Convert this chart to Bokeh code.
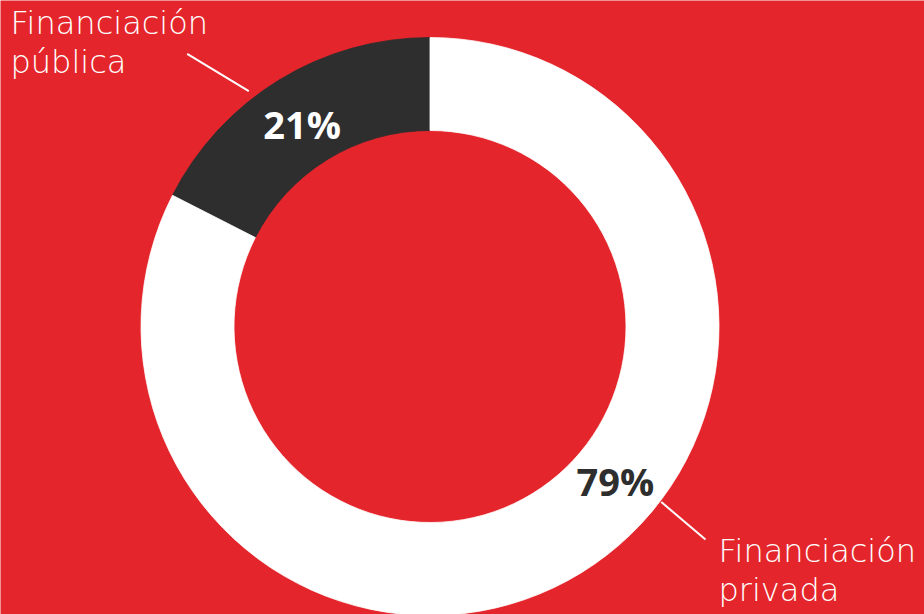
import math
import re
from bokeh.plotting import figure
from bokeh.models import Range1d
from bokeh.core.properties import value
from bokeh.embed import file_html
from bokeh.resources import INLINE

# ---- data ----
categories = ["Financiación pública", "Financiación privada"]
ring_shares = [17.5, 82.5]          # share of the ring as drawn
pct_labels = ["21%", "79%"]
label_lines = [["Financiación", "pública"], ["Financiación", "privada"]]

# ---- style ----
BG = "#E4262C"
COLORS = ["#2E2E2E", "#FFFFFF"]
PCT_COLORS = ["#FFFFFF", "#2E2E2E"]
LABEL_FONT = "'DejaVu Sans Light', 'Open Sans Light', 'Open Sans'"
PCT_FONT = "Open Sans"
PCT_SIZE = 38
LABEL_SIZE = 32
BASE_FIX = 0.39              # renderer baseline correction (fraction of font size)

W, H = 924, 614
CX, CY = 429.5, 326          # donut centre (px from left / top)
R_OUT, R_IN = 289, 196

p = figure(width=W, height=H, output_backend="svg", toolbar_location=None,
           x_range=Range1d(-CX, W - CX), y_range=Range1d(CY - H, CY),
           x_axis_location=None, y_axis_location=None, min_border=0)
p.grid.visible = False
p.outline_line_color = None
p.background_fill_color = BG
p.border_fill_color = BG

# wedges from data
total = sum(ring_shares)
starts, ends = [], []
a = math.pi / 2
for s in ring_shares:
    starts.append(a)
    a += 2 * math.pi * s / total
    ends.append(a)

p.annular_wedge(x=0, y=0, inner_radius=R_IN, outer_radius=R_OUT,
                start_angle=starts, end_angle=ends, direction="anticlock",
                fill_color=COLORS, line_color=COLORS, line_width=0.8)

# percentage labels (polar placement: angle deg, radius, cap height)
pct_place = [(122.5, 238, 25.6), (-40.0, 242, 27.0)]
px, py = [], []
for ang, r, ch in pct_place:
    t = math.radians(ang)
    px.append(r * math.cos(t))
    py.append(r * math.sin(t) - ch / 2 + BASE_FIX * PCT_SIZE)
p.text(x=px, y=py, text=pct_labels, text_color=PCT_COLORS,
       text_font=value(PCT_FONT), text_font_style="bold", text_font_size="%dpx" % PCT_SIZE,
       text_align="center", text_baseline="alphabetic")

# leader lines (polar: inner r, inner angle, outer r, outer angle)
leaders = [(297, 127.6, 365, 131.7), (290.4, -37.2, 348.2, -37.7)]
x0 = [r0 * math.cos(math.radians(a0)) for r0, a0, r1, a1 in leaders]
y0 = [r0 * math.sin(math.radians(a0)) for r0, a0, r1, a1 in leaders]
x1 = [r1 * math.cos(math.radians(a1)) for r0, a0, r1, a1 in leaders]
y1 = [r1 * math.sin(math.radians(a1)) for r0, a0, r1, a1 in leaders]
p.segment(x0=x0, y0=y0, x1=x1, y1=y1, line_color="#FFFFFF", line_width=2)

# category labels (anchor: left x, first baseline, line step)
label_anchor = [(-419.5, 291, 39), (288.5, -237.3, 38.5)]
tx, ty, tt = [], [], []
for (ax, ay, step), lines in zip(label_anchor, label_lines):
    for i, ln in enumerate(lines):
        tx.append(ax)
        ty.append(ay - i * step + BASE_FIX * LABEL_SIZE)
        tt.append(ln)
p.text(x=tx, y=ty, text=tt, text_color="#FFFFFF", text_font=value(LABEL_FONT),
       text_font_size="%dpx" % LABEL_SIZE, text_align="left", text_baseline="alphabetic")

html = file_html(p, INLINE, title="Financiación")
html = re.sub(r"<body([^>]*)>", r'<body\1 style="margin:0;background-color:%s;">' % BG, html, count=1)
open("out.html", "w").write(html)
